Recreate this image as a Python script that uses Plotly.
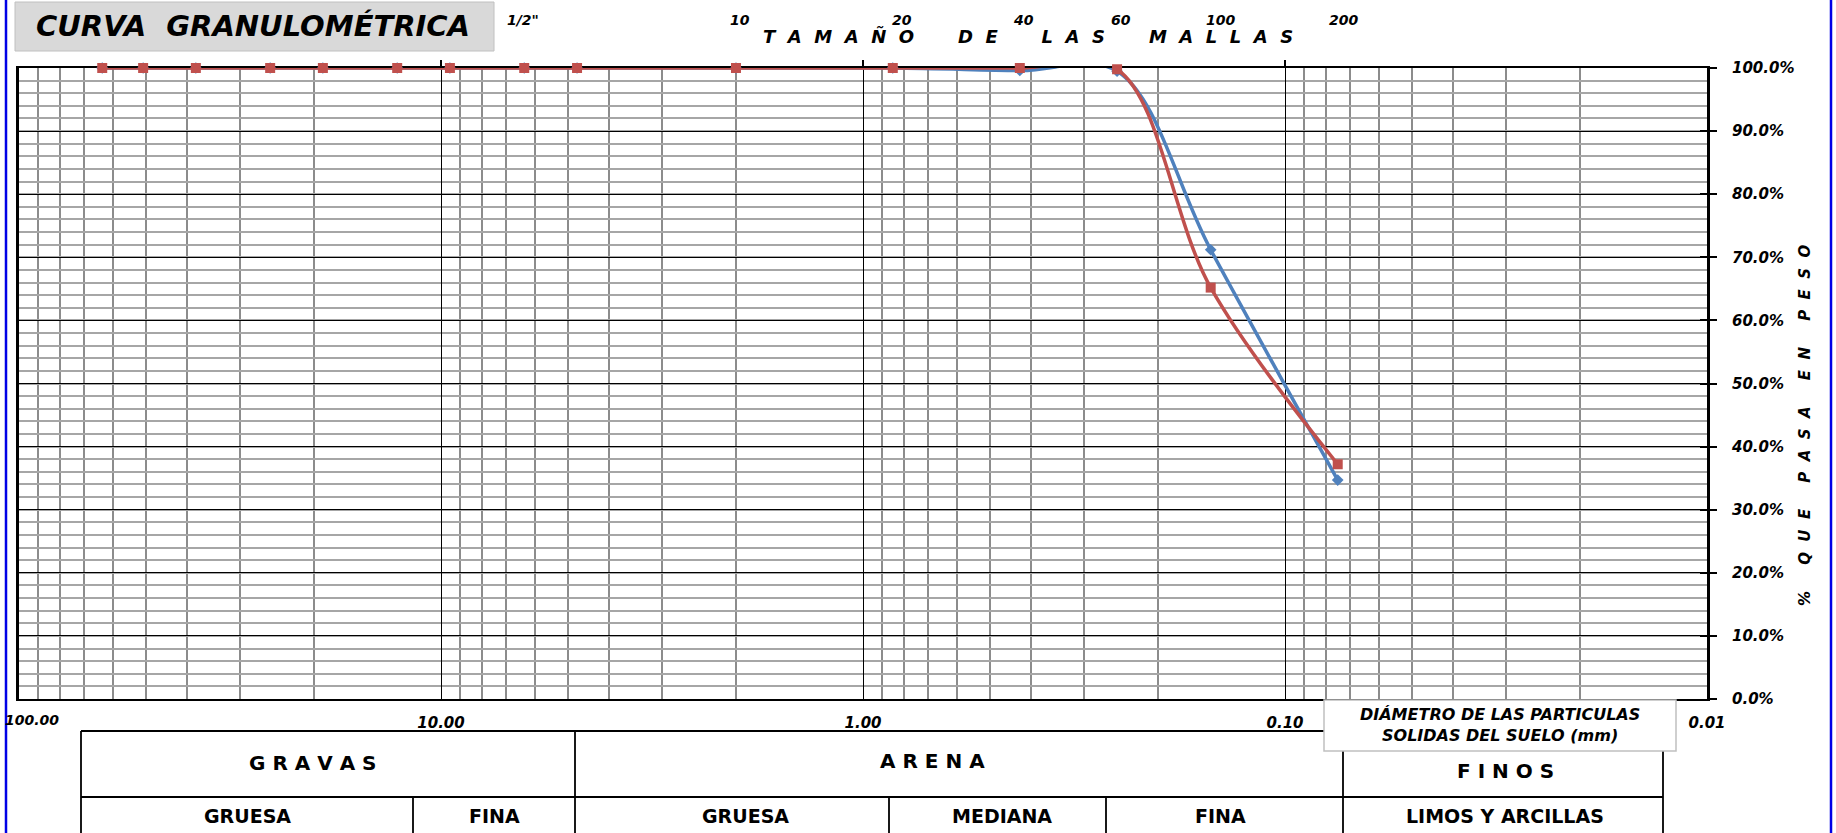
import plotly.graph_objects as go

# aberturas de los tamices (mm) y porcentaje que pasa
abertura = [63.5, 50.8, 38.1, 25.4, 19.05, 12.7, 9.525, 6.35, 4.76, 2.00, 0.85, 0.425, 0.25, 0.15, 0.075]
pasa_azul = [100.0, 100.0, 100.0, 100.0, 100.0, 100.0, 100.0, 100.0, 100.0, 100.0, 100.0, 99.6, 99.5, 71.2, 34.7]
pasa_rojo = [100.0, 100.0, 100.0, 100.0, 100.0, 100.0, 100.0, 100.0, 100.0, 100.0, 100.0, 100.0, 99.8, 65.2, 37.2]

x_ticks = [100, 10, 1, 0.1, 0.01]
x_ticktext = ["100.00", "10.00", "1.00", "0.10", "0.01"]
y_ticks = [0, 10, 20, 30, 40, 50, 60, 70, 80, 90, 100]

mallas = ['1/2"', "10", "20", "40", "60", "100", "200"]
mallas_px = [523, 740, 902, 1023, 1121, 1220, 1343]

#area del grafico en pixeles
L, R, T, B = 19, 1707, 68, 699
def px(x):
    return (x - L) / (R - L)
def py(y):
    return (B - y) / (B - T)

FONT = "DejaVu Sans"
NB = "\u00a0"

def spaced(txt, gap=2, wgap=5):
    words = txt.split(" ")
    return (NB * wgap).join((NB * gap).join(w) for w in words)

# lineas de grilla menores en x (2..9 de cada decada)
minor_x = []
for d in [10, 1, 0.1, 0.01]:
    for k in range(2, 10):
        minor_x.append(k * d)

fig = go.Figure()

fig.add_trace(go.Scatter(
    x=abertura, y=pasa_azul, mode="lines+markers",
    line=dict(color="#4F81BD", width=3.5, shape="spline", smoothing=1),
    marker=dict(symbol="diamond", size=9, color="#4F81BD"),
    cliponaxis=False, showlegend=False))

fig.add_trace(go.Scatter(
    x=abertura, y=pasa_rojo, mode="lines+markers",
    line=dict(color="#C0504D", width=3.5, shape="spline", smoothing=1),
    marker=dict(symbol="square", size=10, color="#C0504D"),
    cliponaxis=False, showlegend=False))

# traza vacia para los ejes superpuestos (ticks en cruz)
fig.add_trace(go.Scatter(x=[], y=[], xaxis="x2", yaxis="y2", showlegend=False, hoverinfo="skip"))

fig.update_layout(
    width=1836, height=833, autosize=False,
    margin=dict(l=L, r=1836 - R, t=T, b=833 - B, pad=0),
    paper_bgcolor="white", plot_bgcolor="white",
    showlegend=False,
    font=dict(family=FONT, color="black"),
    xaxis=dict(
        type="log", range=[2, -2],
        tickmode="array", tickvals=x_ticks[1:],
        ticktext=["<b><i>" + t + "</i></b>" for t in x_ticktext[1:]],
        tickfont=dict(size=15, family=FONT),
        ticks="", ticklabelstandoff=9,
        showgrid=True, gridcolor="black", gridwidth=1.3,
        minor=dict(tickmode="array", tickvals=minor_x, showgrid=True,
                   gridcolor="#8c8c8c", gridwidth=1.6, ticks=""),
        showline=True, linecolor="black", linewidth=1.5, mirror=True,
        zeroline=False, layer="below traces"),
    yaxis=dict(
        range=[0, 100], side="right",
        tickmode="array", tickvals=y_ticks,
        ticktext=["<b><i>%.1f%%</i></b>" % v for v in y_ticks],
        tickfont=dict(size=15, family=FONT),
        ticks="outside", ticklen=7, tickwidth=2, tickcolor="black",
        ticklabelstandoff=12,
        showgrid=True, gridcolor="black", gridwidth=1.3,
        minor=dict(dtick=2, showgrid=True, gridcolor="#a6a6a6", gridwidth=1.6, ticks=""),
        showline=True, linecolor="black", linewidth=3, mirror=True,
        zeroline=False, layer="below traces"),
    xaxis2=dict(
        type="log", range=[2, -2], overlaying="x", side="top",
        tickmode="array", tickvals=[10, 1, 0.1],
        ticks="outside", ticklen=7, tickwidth=1.5, tickcolor="black",
        showticklabels=False, showgrid=False, zeroline=False, showline=False),
    yaxis2=dict(
        range=[0, 100], overlaying="y", side="right",
        tickmode="array", tickvals=y_ticks,
        ticks="inside", ticklen=7, tickwidth=2, tickcolor="black",
        showticklabels=False, showgrid=False, zeroline=False, showline=False),
)

shapes = []
# bordes azules de la hoja
for xb in [6, 1831]:
    shapes.append(dict(type="line", xref="paper", yref="paper",
                       x0=px(xb), x1=px(xb), y0=py(0), y1=py(833),
                       line=dict(color="#0000e6", width=2.5)))
# caja del titulo
shapes.append(dict(type="rect", xref="paper", yref="paper",
                   x0=px(15), x1=px(494), y0=py(2), y1=py(51),
                   fillcolor="#d9d9d9", line=dict(color="#c0c0c0", width=1)))
# tabla de clasificacion
tabla = [
    (81, 731, 1343, 731),
    (81, 797, 1663, 797),
    (81, 731, 81, 840),
    (575, 731, 575, 840),
    (1343, 731, 1343, 840),
    (1663, 751, 1663, 840),
    (413, 797, 413, 840),
    (889, 797, 889, 840),
    (1106, 797, 1106, 840),
]
for x0, y0, x1, y1 in tabla:
    shapes.append(dict(type="line", xref="paper", yref="paper",
                       x0=px(x0), x1=px(x1), y0=py(y0), y1=py(y1),
                       line=dict(color="black", width=1.8)))
# caja del diametro
shapes.append(dict(type="rect", xref="paper", yref="paper",
                   x0=px(1324), x1=px(1676), y0=py(700), y1=py(751),
                   fillcolor="white", line=dict(color="#c0c0c0", width=1.5)))
fig.update_layout(shapes=shapes)

def note(text, x, y, size, bi=True, angle=0, anchor="center"):
    if bi:
        text = "<b><i>" + text + "</i></b>"
    else:
        text = "<b>" + text + "</b>"
    fig.add_annotation(text=text, xref="paper", yref="paper", x=px(x), y=py(y),
                       xanchor=anchor, yanchor="middle", showarrow=False,
                       textangle=angle, font=dict(family=FONT, size=size, color="black"))

# etiqueta 100.00 del borde izquierdo (dentro de la hoja)
note(x_ticktext[0], 3, 720, 14, anchor="left")
note("CURVA" + NB * 2 + "GRANULOMÉTRICA", 253, 26, 29)
for lab, xm in zip(mallas, mallas_px):
    note(lab, xm, 20, 14)
note(spaced("TAMAÑO DE LAS MALLAS", 2, 7), 1028, 36, 18)
note(spaced("% QUE PASA EN PESO", 2, 5), 1805, 425, 15, angle=-90)
note("DIÁMETRO DE LAS PARTICULAS<br>SOLIDAS DEL SUELO (mm)", 1500, 725, 16)

note(spaced("GRAVAS", 1), 312, 763, 20, bi=False)
note(spaced("ARENA", 1), 932, 761, 20, bi=False)
note(spaced("FINOS", 1), 1505, 771, 20, bi=False)
for lab, xc in [("GRUESA", 247), ("FINA", 494), ("GRUESA", 745), ("MEDIANA", 1002),
                ("FINA", 1220), ("LIMOS Y ARCILLAS", 1505)]:
    note(lab, xc, 816, 19, bi=False)

fig.write_html("out.html", config={"displayModeBar": False},
               post_script="document.body.style.margin='0';")
